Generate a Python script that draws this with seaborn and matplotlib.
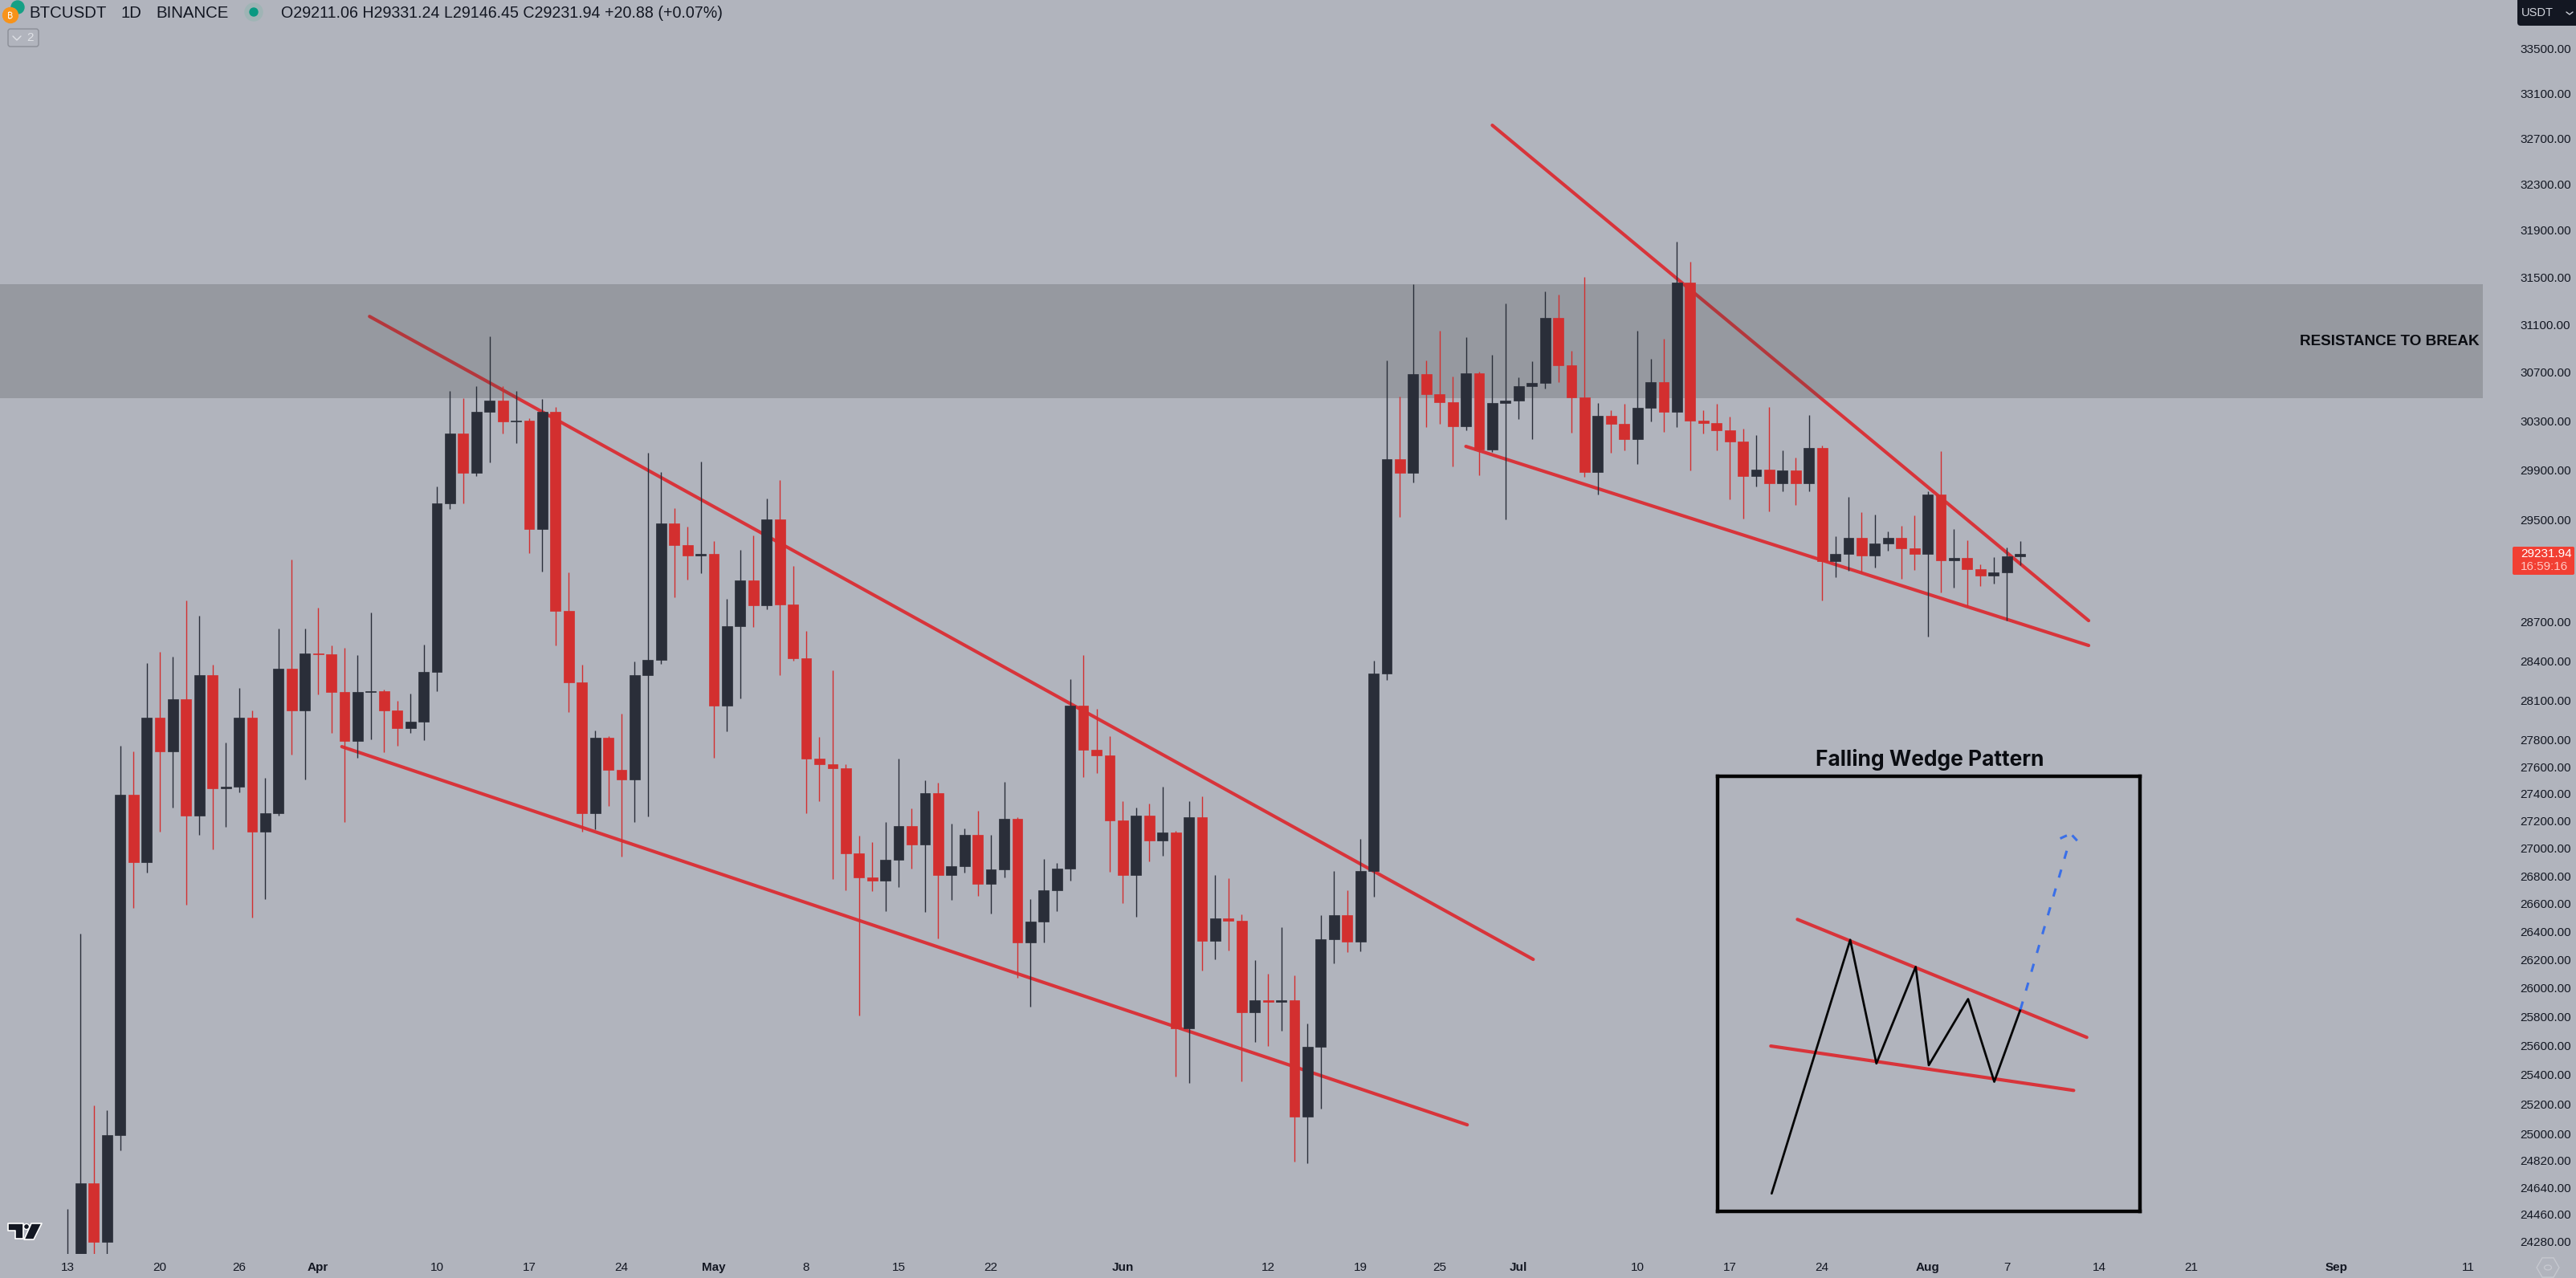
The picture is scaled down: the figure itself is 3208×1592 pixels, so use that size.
import numpy as np
import pandas as pd
import matplotlib
matplotlib.use("Agg")
import matplotlib.pyplot as plt
from matplotlib.patches import Circle, FancyBboxPatch, Polygon, RegularPolygon, Ellipse
from matplotlib.ticker import NullLocator
import seaborn as sns

# BTCUSDT daily candles, 13 Mar to 8 Aug
opens = [22160, 24120, 24666, 24280, 24991, 27391, 26901, 27966, 27713, 28106,
         27241, 28289, 27442, 27451, 27966, 27120, 27255, 28342, 28024, 28460,
         28452, 28164, 27794, 28164, 28170, 28024, 27893, 27937, 28318, 29632,
         30197, 29882, 30373, 30467, 30295, 30300, 29429, 30378, 28789, 28236,
         27260, 27817, 27580, 27504, 28294, 28411, 29475, 29303, 29218, 29232,
         28058, 28666, 29023, 28829, 29505, 28839, 28420, 27660, 27618, 27590,
         26961, 26786, 26763, 26915, 27162, 27026, 27405, 26809, 26869, 27097,
         26740, 26846, 27213, 26322, 26470, 26699, 26851, 28059, 27727, 27684,
         27204, 26809, 27237, 27059, 27115, 25718, 27227, 26335, 26493, 26475,
         25829, 25918, 25905, 25918, 25115, 25594, 26344, 26516, 26331, 26837,
         28304, 29990, 29882, 30689, 30520, 30457, 30258, 30693, 30067, 30447,
         30466, 30587, 30613, 31153, 30760, 30494, 29888, 30344, 30279, 30153,
         30410, 30620, 30378, 31452, 30305, 30284, 30225, 30135, 29856, 29907,
         29797, 29900, 29792, 30083, 29176, 29230, 29357, 29219, 29318, 29357,
         29275, 29230, 29707, 29182, 29198, 29112, 29063, 29088, 29211.06]
highs = [24498, 26385, 25192, 25158, 27756, 27718, 28386, 28469, 28435, 28868,
         28750, 28372, 27784, 28193, 28024, 27518, 28647, 29188, 28652, 28813,
         28518, 28499, 28445, 28775, 28179, 28096, 28150, 28523, 29770, 30546,
         30488, 30588, 31000, 30588, 30546, 30321, 30478, 30414, 29088, 28372,
         27874, 27830, 27999, 28396, 30042, 29887, 29597, 29449, 29968, 29333,
         28878, 29263, 29378, 29673, 29820, 29138, 28632, 27822, 28328, 27622,
         27092, 27045, 27195, 27660, 27293, 27498, 27484, 27181, 27148, 27274,
         27097, 27489, 27230, 26630, 26924, 26892, 28260, 28445, 28034, 27832,
         27344, 27297, 27330, 27451, 27125, 27348, 27381, 26805, 26782, 26525,
         26197, 26103, 26430, 26090, 25751, 26516, 26837, 26694, 27069, 28401,
         30799, 30499, 31440, 30799, 31047, 30665, 30993, 30705, 30848, 31279,
         30661, 30794, 31379, 31350, 30879, 31501, 30447, 30391, 30440, 31046,
         30815, 30981, 31804, 31632, 30391, 30442, 30335, 30237, 30186, 30415,
         30062, 30000, 30350, 30100, 29375, 29687, 29565, 29542, 29409, 29454,
         29536, 29733, 30055, 29431, 29338, 29153, 29205, 29283, 29331.24]
lows = [21920, 24000, 23900, 24170, 24888, 26571, 26823, 27120, 27297, 26594,
        27101, 26994, 27157, 27414, 26502, 26630, 27237, 27689, 27508, 28144,
        27851, 27195, 27665, 27803, 27708, 27760, 27855, 27798, 28169, 29591,
        29632, 29851, 29964, 30197, 30120, 29238, 29093, 28518, 28009, 27120,
        27139, 27311, 26938, 27190, 27232, 28376, 28893, 29028, 29078, 27665,
        27869, 28115, 28662, 28799, 28294, 28401, 27260, 27348, 26777, 26694,
        25807, 26690, 26548, 26722, 26855, 26539, 26353, 26625, 26823, 26657,
        26530, 26791, 26073, 25873, 26322, 26548, 26763, 27522, 27551, 26832,
        26603, 26507, 26906, 26947, 25390, 25345, 26122, 26203, 26267, 25354,
        25625, 25598, 25704, 24810, 24798, 25171, 26175, 26254, 26263, 26648,
        28255, 29525, 29800, 30249, 30275, 29933, 30225, 29862, 30051, 29504,
        30316, 30153, 30567, 30622, 30202, 29847, 29702, 30041, 30062, 29953,
        30298, 30213, 30251, 29898, 30199, 30062, 29664, 29515, 29767, 29572,
        29728, 29624, 29733, 28868, 29050, 29097, 29090, 29124, 29255, 29034,
        29103, 28589, 28928, 28970, 28824, 28980, 29000, 28713, 29146.45]
closes = [24120, 24666, 24280, 24991, 27391, 26901, 27966, 27713, 28106, 27241,
          28289, 27442, 27451, 27966, 27120, 27255, 28342, 28024, 28460, 28452,
          28164, 27794, 28164, 28170, 28024, 27893, 27937, 28318, 29632, 30197,
          29882, 30373, 30467, 30295, 30300, 29429, 30378, 28789, 28236, 27260,
          27817, 27580, 27504, 28294, 28411, 29475, 29303, 29218, 29232, 28058,
          28666, 29023, 28829, 29505, 28839, 28420, 27660, 27618, 27590, 26961,
          26786, 26763, 26915, 27162, 27026, 27405, 26809, 26869, 27097, 26740,
          26846, 27213, 26322, 26470, 26699, 26851, 28059, 27727, 27684, 27204,
          26809, 27237, 27059, 27115, 25718, 27227, 26335, 26493, 26475, 25829,
          25918, 25905, 25918, 25115, 25594, 26344, 26516, 26331, 26837, 28304,
          29990, 29882, 30689, 30520, 30457, 30258, 30693, 30067, 30447, 30466,
          30587, 30613, 31153, 30760, 30494, 29888, 30344, 30279, 30153, 30410,
          30620, 30378, 31452, 30305, 30284, 30225, 30135, 29856, 29907, 29797,
          29900, 29792, 30083, 29176, 29230, 29357, 29219, 29318, 29357, 29275,
          29230, 29707, 29182, 29198, 29112, 29063, 29088, 29211.06, 29231.94]

# trend lines: day number since 13 Mar, price
channel_top_days = [22.9, 111.1]
channel_top_prices = [31167, 26203]
channel_low_days = [20.8, 106.1]
channel_low_prices = [27751, 25059]
wedge_top_days = [108.0, 153.2]
wedge_top_prices = [32817, 28711]
wedge_low_days = [106.0, 153.2]
wedge_low_prices = [30093, 28519]

resistance_low = 30490
resistance_high = 31440

price_ticks = [33500, 33100, 32700, 32300, 31900, 31500, 31100, 30700, 30300, 29900, 29500,
               28700, 28400, 28100, 27800, 27600, 27400, 27200, 27000, 26800, 26600, 26400,
               26200, 26000, 25800, 25600, 25400, 25200, 25000, 24820, 24640, 24460, 24280]
date_ticks = [0, 7, 13, 19, 28, 35, 42, 49, 56, 63, 70, 80, 91, 98, 104, 110, 119, 126, 133,
              141, 147, 154, 161, 172, 182]
date_labels = ["13", "20", "26", "Apr", "10", "17", "24", "May", "8", "15", "22", "Jun", "12",
               "19", "25", "Jul", "10", "17", "24", "Aug", "7", "14", "21", "Sep", "11"]
month_labels = ["Apr", "May", "Jun", "Jul", "Aug", "Sep"]

# falling wedge sketch in the inset, 0-100 both ways
sketch_x = [12.8, 31.4, 37.6, 46.9, 50.0, 59.3, 65.5, 71.7]
sketch_y = [4.1, 62.4, 34.0, 56.2, 33.6, 48.8, 29.8, 46.4]
sketch_top_x = [18.9, 87.4]
sketch_top_y = [67.1, 40.0]
sketch_low_x = [12.6, 84.3]
sketch_low_y = [38.0, 27.8]
breakout_x = [71.7, 83.3]
breakout_y = [46.4, 85.0]
arrow_x = [81.1, 83.6, 85.9]
arrow_y = [85.7, 86.8, 84.4]

BG = "#b1b4bd"
DARK = "#2a2e39"
RED = "#d32f2f"
LINE_RED = "#d8343a"

sns.set_theme(style="white", rc={"axes.facecolor": BG, "figure.facecolor": BG})
plt.rcParams["font.family"] = ["Liberation Sans", "DejaVu Sans"]

W, H = 3208, 1592
PLOT_R, PLOT_B = 3092, 1562
fig = plt.figure(figsize=(W / 100, H / 100), dpi=100)
ax = fig.add_axes([0, 1 - PLOT_B / H, PLOT_R / W, PLOT_B / H])

candles = pd.DataFrame({"open": opens, "high": highs, "low": lows, "close": closes})
candles["day"] = np.arange(len(candles))
candles["color"] = np.where(candles["close"] >= candles["open"], DARK, RED)

# lines sit under the band, candles on top of both
for days, prices in [(channel_top_days, channel_top_prices), (channel_low_days, channel_low_prices),
                     (wedge_top_days, wedge_top_prices), (wedge_low_days, wedge_low_prices)]:
    sns.lineplot(x=days, y=prices, ax=ax, color=LINE_RED, linewidth=3.0, zorder=1,
                 estimator=None, sort=False, solid_capstyle="round")

ax.set_yscale("log")
ax.axhspan(resistance_low, resistance_high, color="#444444", alpha=0.24, lw=0, zorder=2)

ax.vlines(candles["day"], candles["low"], candles["high"], colors=candles["color"],
          linewidth=1.0, zorder=3)
body_bottom = candles[["open", "close"]].min(axis=1)
body_top = candles[["open", "close"]].max(axis=1)
ax.bar(candles["day"], body_top - body_bottom, bottom=body_bottom, width=0.78,
       color=candles["color"], edgecolor=candles["color"], linewidth=0.5, zorder=4)

ax.set_xlim(-5.11, 183.08)
ax.set_ylim(24201, 33945)
ax.set_xlabel("")
ax.set_ylabel("")
for s in ax.spines.values():
    s.set_visible(False)

ax.set_xticks(date_ticks)
ax.set_xticklabels(date_labels, fontsize=11, color="#131722")
for lab in ax.get_xticklabels():
    if lab.get_text() in month_labels:
        lab.set_fontweight("bold")
ax.tick_params(axis="x", length=0, pad=7)

ax.yaxis.tick_right()
ax.yaxis.set_minor_locator(NullLocator())
ax.set_yticks(price_ticks)
ax.set_yticklabels([f"{p:.2f}" for p in price_ticks], fontsize=11, color="#131722")
ax.tick_params(axis="y", length=0, pad=33.5)

ax.text(182.8, 30955, "RESISTANCE TO BREAK", ha="right", va="center", fontsize=13.6,
        fontweight="bold", color="#0b0d12", zorder=5)

# inset box with the pattern sketch
inset = fig.add_axes([2139 / W, 1 - 1509 / H, 526 / W, 542 / H], facecolor="none")
inset.set_xlim(0, 100)
inset.set_ylim(0, 100)
inset.set_xticks([])
inset.set_yticks([])
for s in inset.spines.values():
    s.set_linewidth(3.2)
    s.set_color("#050505")
sns.lineplot(x=sketch_top_x, y=sketch_top_y, ax=inset, color=LINE_RED, linewidth=3.0,
             estimator=None, sort=False, solid_capstyle="round")
sns.lineplot(x=sketch_low_x, y=sketch_low_y, ax=inset, color=LINE_RED, linewidth=3.0,
             estimator=None, sort=False, solid_capstyle="round")
sns.lineplot(x=sketch_x, y=sketch_y, ax=inset, color="#050505", linewidth=2.0,
             estimator=None, sort=False)
dash = (0, (3.4, 4.6))
sns.lineplot(x=breakout_x, y=breakout_y, ax=inset, color="#3a6fe8", linewidth=2.2,
             estimator=None, sort=False, linestyle=dash)
sns.lineplot(x=arrow_x, y=arrow_y, ax=inset, color="#3a6fe8", linewidth=2.2,
             estimator=None, sort=False, linestyle=(0, (3, 2.6)))
inset.set_xlim(0, 100)
inset.set_ylim(0, 100)
inset.set_xlabel("")
inset.set_ylabel("")
fig.text(2403 / W, 1 - 946 / H, "Falling Wedge Pattern", ha="center", va="center",
         fontsize=19, fontweight="bold", family="Inter", color="#0b0d12")

# everything around the chart, in pixel coordinates
top = fig.add_axes([0, 0, 1, 1], facecolor="none")
top.set_xlim(0, W)
top.set_ylim(H, 0)
top.axis("off")

top.add_patch(Circle((22, 9), 8, color="#16a085", zorder=1))
top.add_patch(Circle((13, 19), 9.5, color="#f7931a", zorder=2))
top.text(13, 19.5, "₿", ha="center", va="center", fontsize=8, color="white",
         family=["Inter", "Roboto", "Noto Sans", "Open Sans", "Lato"], zorder=3)
for txt, x in [("BTCUSDT", 36), ("1D", 151), ("BINANCE", 194)]:
    top.text(x, 16, txt, ha="left", va="center", fontsize=14.7, color="#131722")
top.add_patch(Circle((316, 15), 11, color="#9fb4b5", zorder=1))
top.add_patch(Circle((316, 15), 5, color="#089981", zorder=2))
top.text(350, 17, "O29211.06 H29331.24 L29146.45 C29231.94 +20.88 (+0.07%)", ha="left",
         va="center", fontsize=14.15, color="#131722")

top.add_patch(FancyBboxPatch((10, 36), 38, 22, boxstyle="round,pad=0,rounding_size=3",
                             fc="none", ec="#8b8e97", lw=1))
top.plot([16, 21, 26], [45, 50, 45], color="#dfe1e6", lw=1)
top.text(38, 47, "2", ha="center", va="center", fontsize=11, color="#dfe1e6")

# currency tag, last price tag, logo, settings icon
top.add_patch(FancyBboxPatch((3135, -6), 80, 38, boxstyle="round,pad=0,rounding_size=4",
                             fc="#131722", ec="none"))
top.text(3140, 16, "USDT", ha="left", va="center", fontsize=10.5, color="#d1d4dc")
top.plot([3196, 3200, 3204], [15, 18, 15], color="#d1d4dc", lw=1)

top.add_patch(FancyBboxPatch((3129, 681), 77, 35, boxstyle="round,pad=0,rounding_size=2",
                             fc="#f23f33", ec="none"))
top.text(3139, 690.5, "29231.94", ha="left", va="center", fontsize=11, color="white")
top.text(3139, 706, "16:59:16", ha="left", va="center", fontsize=11, color="#ffc9c4")

top.add_patch(Polygon([(10, 1524), (29, 1524), (29, 1543), (19, 1543), (19, 1533), (10, 1533)],
                      fc="#131722", ec="white", lw=1.2, joinstyle="round"))
top.add_patch(Polygon([(39, 1524), (52, 1524), (42, 1544), (30, 1544)],
                      fc="#131722", ec="white", lw=1.2, joinstyle="round"))
top.add_patch(Circle((33, 1528), 3.5, fc="#131722", ec="white", lw=1))

top.add_patch(RegularPolygon((3173, 1579), 6, radius=14, orientation=np.pi / 2, fc="none",
                             ec="#c6c8cf", lw=1))
top.add_patch(Ellipse((3173, 1579), 9, 6, fc="none", ec="#c6c8cf", lw=1))

fig.savefig("out.png", dpi=100, facecolor=BG)
